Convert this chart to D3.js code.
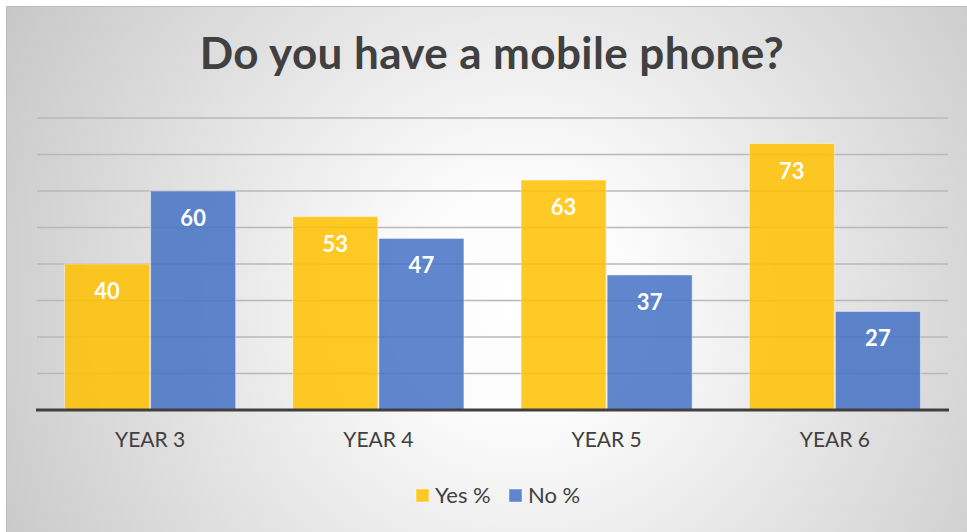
<!DOCTYPE html>
<html>
<head>
<meta charset="utf-8">
<script src="https://cdn.jsdelivr.net/npm/d3@7"></script>
<style>
  html, body { margin: 0; padding: 0; background: #ffffff; }
  svg { display: block; }
  text { font-family: Lato, "Open Sans", sans-serif; }
</style>
</head>
<body>
<svg id="chart" width="967" height="532"></svg>
<script>
// Survey results: share of pupils answering "Do you have a mobile phone?"
const categories = ["YEAR 3", "YEAR 4", "YEAR 5", "YEAR 6"];
const seriesNames = ["Yes %", "No %"];
const yesValues = [40, 53, 63, 73];
const noValues = [60, 47, 37, 27];
const yTicks = [0, 10, 20, 30, 40, 50, 60, 70, 80];
const title = "Do you have a mobile phone?";

const colors = { "Yes %": "#FFC000", "No %": "#4472C4" };

const rows = categories.map((c, i) => ({
  category: c,
  values: [
    { key: seriesNames[0], value: yesValues[i] },
    { key: seriesNames[1], value: noValues[i] }
  ]
}));

const svg = d3.select("#chart");

// Soft radial backdrop of the chart area
const defs = svg.append("defs");
const grad = defs.append("radialGradient")
  .attr("id", "bg")
  .attr("gradientUnits", "userSpaceOnUse")
  .attr("cx", 520).attr("cy", 300).attr("r", 620);
grad.append("stop").attr("offset", "0%").attr("stop-color", "#ffffff");
grad.append("stop").attr("offset", "20%").attr("stop-color", "#fbfbfb");
grad.append("stop").attr("offset", "100%").attr("stop-color", "#c4c4c4");

svg.append("rect")
  .attr("x", 6.5).attr("y", 6.5)
  .attr("width", 980).attr("height", 540)
  .attr("fill", "url(#bg)")
  .attr("stroke", "#bdbdbd").attr("stroke-width", 1);

const plot = { left: 36, right: 949, top: 118, bottom: 410 };

const x0 = d3.scaleBand()
  .domain(categories)
  .range([plot.left, plot.right])
  .paddingInner(0.246)
  .paddingOuter(0.123);

const x1 = d3.scaleBand()
  .domain(seriesNames)
  .range([0, x0.bandwidth()])
  .padding(0);

const y = d3.scaleLinear()
  .domain([0, 80])
  .range([plot.bottom, plot.top]);

// Horizontal gridlines
svg.append("g")
  .selectAll("line")
  .data(yTicks.filter(t => t > 0))
  .join("line")
  .attr("x1", plot.left + 1).attr("x2", plot.right - 1)
  .attr("y1", d => y(d)).attr("y2", d => y(d))
  .attr("stroke", "#b9b9b9")
  .attr("stroke-width", 1.5);

// Title
svg.append("text")
  .attr("x", 492).attr("y", 69)
  .attr("text-anchor", "middle")
  .attr("fill", "#404040")
  .attr("font-size", 44)
  .attr("font-weight", 700)
  .attr("letter-spacing", 0.4)
  .text(title);

// Bars
const groups = svg.append("g")
  .selectAll("g")
  .data(rows)
  .join("g")
  .attr("transform", d => `translate(${x0(d.category)},0)`);

groups.selectAll("rect")
  .data(d => d.values)
  .join("rect")
  .attr("x", d => x1(d.key) + 0.5)
  .attr("width", x1.bandwidth() - 1)
  .attr("y", d => y(d.value))
  .attr("height", d => y(0) - y(d.value))
  .attr("fill", d => colors[d.key])
  .attr("fill-opacity", 0.85)
  .attr("stroke", "#ffffff")
  .attr("stroke-opacity", 0.45)
  .attr("stroke-width", 1);

// Value labels inside the top of each bar
groups.selectAll("text")
  .data(d => d.values)
  .join("text")
  .attr("x", d => x1(d.key) + x1.bandwidth() / 2)
  .attr("y", d => y(d.value) + 35)
  .attr("text-anchor", "middle")
  .attr("fill", "#ffffff")
  .attr("font-size", 22)
  .attr("font-weight", 700)
  .text(d => d.value);

// Category axis
const xAxis = svg.append("g")
  .attr("transform", `translate(0,${plot.bottom})`)
  .call(d3.axisBottom(x0).tickSize(0).tickPadding(22));
xAxis.select(".domain")
  .attr("d", `M${plot.left},0H${plot.right}`)
  .attr("stroke", "#404040")
  .attr("stroke-width", 3);
xAxis.selectAll("text")
  .attr("fill", "#404040")
  .attr("font-size", 21)
  .attr("font-family", "Lato, 'Open Sans', sans-serif");

// Legend
const legend = svg.append("g").attr("transform", "translate(416,489)");
const legendItems = legend.selectAll("g")
  .data(seriesNames)
  .join("g")
  .attr("transform", (d, i) => `translate(${i * 93},0)`);
legendItems.append("rect")
  .attr("width", 13).attr("height", 13)
  .attr("fill", d => colors[d])
  .attr("fill-opacity", 0.85)
  .attr("stroke", "#ffffff").attr("stroke-opacity", 0.45);
legendItems.append("text")
  .attr("x", 19).attr("y", 14)
  .attr("fill", "#404040")
  .attr("font-size", 22)
  .text(d => d);
</script>
</body>
</html>
